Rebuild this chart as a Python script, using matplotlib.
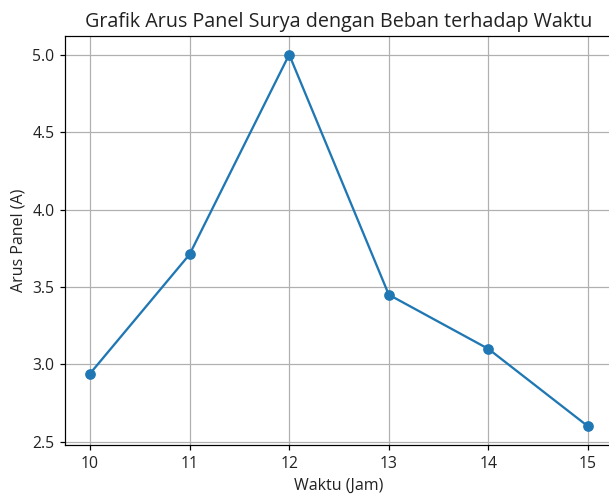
import matplotlib
matplotlib.use("Agg")
import matplotlib.pyplot as plt

plt.rcParams['font.family'] = ['Open Sans', 'DejaVu Sans']

waktu = [10, 11, 12, 13, 14, 15]
arus = [2.94, 3.71, 5.0, 3.45, 3.1, 2.6]

dpi = 110
fig = plt.figure(figsize=(609 / dpi, 495 / dpi), dpi=dpi)
ax = fig.add_axes([65 / 609, 1 - 445 / 495, 548 / 609, (445 - 36) / 495])
ax.plot(waktu, arus, marker='o', color='#1f77b4')
ax.set_title("Grafik Arus Panel Surya dengan Beban terhadap Waktu", fontsize=12.95, color='#222222')
ax.set_xlabel("Waktu (Jam)", fontsize=10.5, color='#222222')
ax.set_ylabel("Arus Panel (A)", fontsize=10.5, color='#222222')
ax.tick_params(labelsize=10.3, labelcolor='#222222')
ax.grid(True)
fig.savefig("out.png", dpi=dpi)
